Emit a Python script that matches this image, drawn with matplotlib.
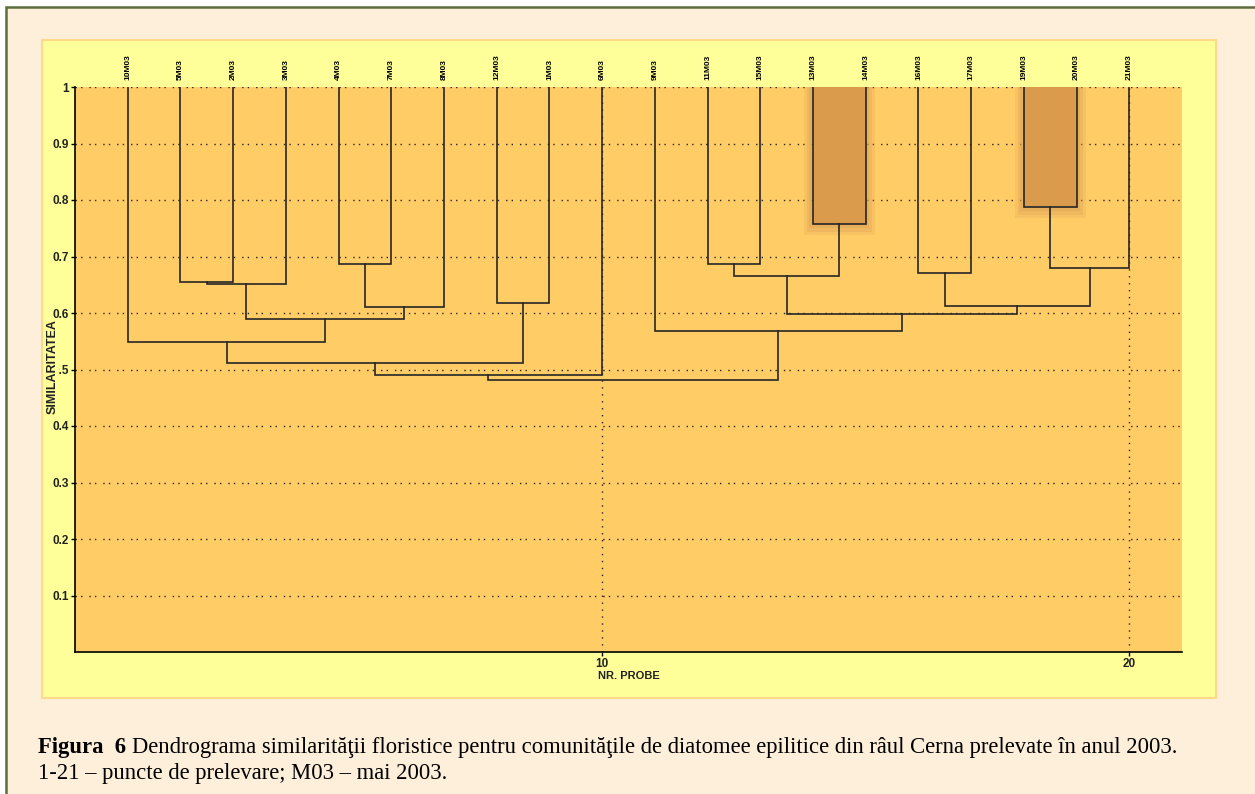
"""Dendrogram of floristic similarity for epilithic diatom communities (Cerna river, 2003)."""

import matplotlib
matplotlib.use("Agg")
import matplotlib.pyplot as plt
from matplotlib.patches import Rectangle

W, H = 1255, 794

COLORS = {
    "page": "#FDEFD9",
    "frame": "#5E7040",
    "panel": "#FFFF99",
    "panel_edge": "#FFD98A",
    "plot": "#FFCC66",
    "highlight": "#DA9B4C",
    "glow": "#DFA255",
    "ink": "#262626",
}

# leaves in dendrogram order (sample 18 is absent)
leaf_labels = [
    "10M03", "5M03", "2M03", "3M03", "4M03", "7M03", "8M03", "12M03", "1M03", "6M03",
    "9M03", "11M03", "15M03", "13M03", "14M03", "16M03", "17M03", "19M03", "20M03", "21M03",
]

# merge steps: nodes 0..19 are leaves, each merge creates node 20, 21, ...
merge_left = [1, 20, 4, 22, 21, 0, 7, 25, 27, 11, 13, 29, 15, 17, 33, 32, 31, 10, 28]
merge_right = [2, 3, 5, 6, 23, 24, 8, 26, 9, 12, 14, 30, 16, 18, 19, 34, 35, 36, 37]
merge_height = [0.654, 0.652, 0.686, 0.610, 0.589, 0.548, 0.617, 0.511, 0.491, 0.686,
                0.758, 0.666, 0.670, 0.788, 0.679, 0.613, 0.599, 0.569, 0.481]

# clusters drawn with a shaded box (13-14 and 19-20)
highlight_nodes = [30, 33]

y_ticks = [0.1, 0.2, 0.3, 0.4, 0.5, 0.6, 0.7, 0.8, 0.9, 1.0]
y_tick_labels = ["0.1", "0.2", "0.3", "0.4", "0.5", "0.6", "0.7", "0.8", "0.9", "1"]
x_ticks = [10, 20]


def px_rect(x0, y0, x1, y1):
    """Figure-fraction rectangle from pixel corners (origin top-left)."""
    return x0 / W, 1 - y1 / H, (x1 - x0) / W, (y1 - y0) / H


def fig_box(x0, y0, x1, y1, **kw):
    x, y, w, h = px_rect(x0, y0, x1, y1)
    fig.patches.append(Rectangle((x, y), w, h, transform=fig.transFigure, zorder=0, **kw))


fig = plt.figure(figsize=(W / 100, H / 100), dpi=100, facecolor=COLORS["page"])

# page frame and yellow panel
fig_box(0, 0, W, 6, facecolor="white", edgecolor="none")
fig_box(0, 0, 5, H, facecolor="white", edgecolor="none")
fig_box(6, 7, W + 10, H + 10, facecolor="none", edgecolor=COLORS["frame"], linewidth=1.8)
fig_box(42, 40, 1216, 698, facecolor=COLORS["panel"], edgecolor=COLORS["panel_edge"], linewidth=1.5)

ax = fig.add_axes(px_rect(75, 87, 1182, 652))
ax.set_zorder(2)
ax.set_facecolor(COLORS["plot"])
ax.set_xlim(0, 21)
ax.set_ylim(0, 1)

# dotted grid
for yv in y_ticks:
    ax.axhline(yv, color=COLORS["ink"], linestyle=(0, (1, 3, 1, 5)), linewidth=1.0, zorder=1)
for xv in x_ticks:
    ax.axvline(xv, color=COLORS["ink"], linestyle=(0, (1, 4)), linewidth=1.0, zorder=1)

# node positions: leaves sit at similarity 1
node_x = [i + 1 for i in range(len(leaf_labels))]
node_y = [1.0] * len(leaf_labels)
for left, right, hgt in zip(merge_left, merge_right, merge_height):
    node_x.append((node_x[left] + node_x[right]) / 2)
    node_y.append(hgt)

n_leaves = len(leaf_labels)
for k, (left, right, hgt) in enumerate(zip(merge_left, merge_right, merge_height)):
    node = n_leaves + k
    xl, xr = node_x[left], node_x[right]
    if node in highlight_nodes:
        # soft halo: a few stacked translucent rectangles
        for gx, gy, alpha in [(0.17, 0.020, 0.22), (0.12, 0.014, 0.30), (0.07, 0.008, 0.40)]:
            ax.add_patch(Rectangle((xl - gx, hgt - gy), xr - xl + 2 * gx, 1 - hgt + gy,
                                   facecolor=COLORS["glow"], edgecolor="none", alpha=alpha, zorder=2))
        ax.add_patch(Rectangle((xl, hgt), xr - xl, 1 - hgt, facecolor=COLORS["highlight"],
                               edgecolor="none", zorder=2.5))
    ax.plot([xl, xl, xr, xr], [node_y[left], hgt, hgt, node_y[right]],
            color=COLORS["ink"], linewidth=1.2, solid_joinstyle="miter", zorder=3)

# sample names above the leaves
for xv, name in zip(node_x[:n_leaves], leaf_labels):
    ax.annotate(name, (xv, 1.0), xytext=(0, 5), textcoords="offset points", rotation=90,
                ha="center", va="bottom", fontsize=6, fontweight="bold",
                family="Liberation Sans", color="black", annotation_clip=False)

for side in ["top", "right"]:
    ax.spines[side].set_visible(False)
for side in ["left", "bottom"]:
    ax.spines[side].set_color("black")
    ax.spines[side].set_linewidth(1.2)

ax.set_yticks(y_ticks)
ax.set_yticklabels(y_tick_labels)
ax.set_xticks(x_ticks)
ax.set_xticklabels([str(t) for t in x_ticks])
ax.tick_params(axis="both", length=3, width=1, pad=1.5, labelsize=8.5, colors="black")
for lbl in ax.get_xticklabels() + ax.get_yticklabels():
    lbl.set_fontweight("bold")
    lbl.set_family("Liberation Sans")
    lbl.set_color("#222222")

fig.text(53 / W, 1 - 367 / H, "SIMILARITATEA", rotation=90, ha="center", va="center",
         fontsize=9, fontweight="bold", family="Liberation Sans", color="#222222", zorder=5,
         bbox=dict(facecolor=COLORS["panel"], edgecolor="none", pad=0.3))
fig.text(629 / W, 1 - 676 / H, "NR. PROBE", ha="center", va="center",
         fontsize=8, fontweight="bold", family="Liberation Sans", color="#222222")

# caption: bold figure number followed by plain text
cap_size = 16.3
bold = fig.text(38 / W, 1 - 747 / H, "Figura  6 ", ha="left", va="center", fontsize=cap_size,
                fontweight="bold", family="Liberation Serif", color="black")
renderer = fig.canvas.get_renderer()
bb = bold.get_window_extent(renderer)
fig.text(bb.x1 / W, 1 - 747 / H,
         "Dendrograma similarităţii floristice pentru comunităţile de diatomee epilitice din râul Cerna prelevate în anul 2003.",
         ha="left", va="center", fontsize=cap_size, family="Liberation Serif", color="black")
fig.text(38 / W, 1 - 773 / H, "1-21 – puncte de prelevare; M03 – mai 2003.", ha="left", va="center",
         fontsize=cap_size, family="Liberation Serif", color="black")

fig.savefig("out.png", dpi=100, facecolor=fig.get_facecolor())
